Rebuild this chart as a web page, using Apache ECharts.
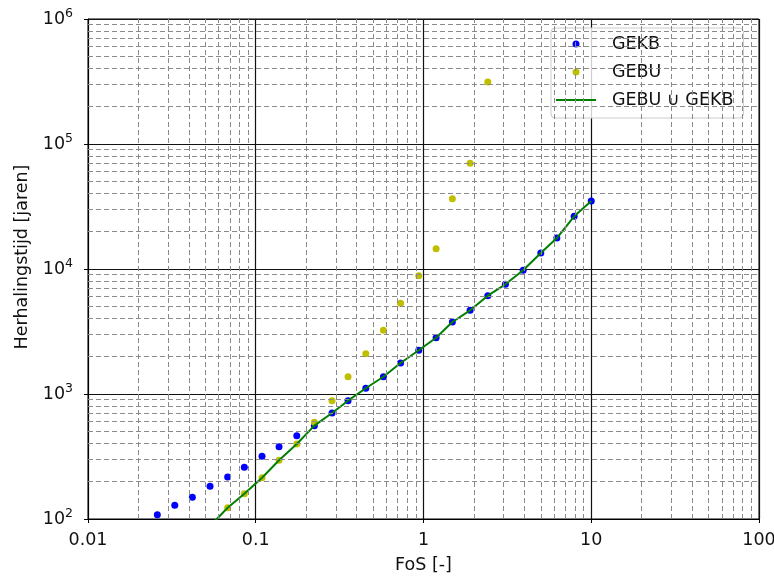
<!DOCTYPE html>
<html>
<head>
<meta charset="utf-8">
<script src="https://cdn.jsdelivr.net/npm/echarts@6/dist/echarts.min.js"></script>
<style>html,body{margin:0;padding:0;background:#fff;}#c{width:774px;height:579px;}</style>
</head>
<body>
<div id="c"></div>
<script>
// ---- data ----
const gekbX = [0.0259,0.0329,0.0419,0.0534,0.068,0.0855,0.109,0.1377,0.1756,0.2236,0.285,0.355,0.453,0.577,0.730,0.937,1.189,1.486,1.896,2.417,3.078,3.926,5.003,6.236,7.91,10.0];
const gekbY = [108,129,149,183,217,259,317,379,464,558,705,884,1111,1375,1770,2237,2821,3767,4673,6114,7545,9764,13430,17700,26400,35000];
const gebuX = [0.068,0.0855,0.109,0.1377,0.1756,0.2236,0.285,0.355,0.453,0.577,0.730,0.937,1.189,1.486,1.896,2.417];
const gebuY = [123,159,214,295,398,594,884,1375,2101,3233,5316,8840,14540,36500,70060,313000];
const unionX = [0.0534,0.068,0.0855,0.109,0.1377,0.1756,0.2236,0.285,0.355,0.453,0.577,0.730,0.937,1.189,1.486,1.896,2.417,3.078,3.926,5.003,6.236,7.91,10.0];
const unionY = [88,123,159,214,295,398,558,705,884,1111,1375,1770,2237,2821,3767,4673,6114,7545,9764,13430,17700,26400,35000];
const seriesNames = ['GEKB','GEBU','GEBU \u222A GEKB'];
const xTickLabels = ['0.01','0.1','1','10','100'];
const yTickExponents = ['2','3','4','5','6'];
const xDecades = [-2,-1,0,1];   // minor grid decades on x
const yDecades = [2,3,4,5];     // minor grid decades on y
const xAxisName = 'FoS [-]';
const yAxisName = 'Herhalingstijd [jaren]';

const FONT = 'DejaVu Sans';
const FS = 17.5;

function zip(xs, ys){ return xs.map((x,i)=>[x, ys[i]]); }
const minorX = [], minorY = [];
xDecades.forEach(d=>{ for(let m=2;m<=9;m++) minorX.push({xAxis: +(m*Math.pow(10,d)).toPrecision(3)}); });
yDecades.forEach(d=>{ for(let m=2;m<=9;m++) minorY.push({yAxis: +(m*Math.pow(10,d)).toPrecision(3)}); });

const chart = echarts.init(document.getElementById('c'), null, {renderer:'canvas'});
chart.setOption({
  animation: false,
  backgroundColor: '#fff',
  textStyle: {fontFamily: FONT},
  grid: {left: 88, right: 15, top: 19, bottom: 60, containLabel: false, outerBoundsMode: 'none',
         show: true, borderColor: '#000', borderWidth: 1, backgroundColor: 'transparent'},
  xAxis: {
    type: 'log', logBase: 10, min: 0.01, max: 100,
    name: xAxisName, nameLocation: 'middle', nameGap: 37,
    nameTextStyle: {fontFamily: FONT, fontSize: FS, color: '#111'},
    axisLine: {show: true, onZero: false, lineStyle: {color: '#000', width: 1}},
    axisTick: {show: true, length: 4, lineStyle: {color: '#000'}},
    axisLabel: {fontFamily: FONT, fontSize: FS, color: '#111', margin: 12,
      formatter: v => xTickLabels[Math.round(Math.log10(v)) + 2]},
    splitLine: {show: true, lineStyle: {color: '#111', width: 1.2}}
  },
  yAxis: {
    type: 'log', logBase: 10, min: 100, max: 1000000,
    axisLine: {show: true, onZero: false, lineStyle: {color: '#000', width: 1}},
    axisTick: {show: true, length: 4, lineStyle: {color: '#000'}},
    axisLabel: {margin: 15, color: '#111',
      formatter: v => '{b|10}{s|' + yTickExponents[Math.round(Math.log10(v)) - 2] + '}',
      rich: {
        b: {fontFamily: FONT, fontSize: FS, color: '#111'},
        s: {fontFamily: FONT, fontSize: 12.5, color: '#111', padding: [0,0,10,0]}
      }},
    splitLine: {show: true, lineStyle: {color: '#111', width: 1.2}}
  },
  graphic: [{
    type: 'text', x: 22, y: 257, rotation: Math.PI/2,
    style: {text: yAxisName, font: FS + 'px "' + FONT + '"', fill: '#111', align: 'center', verticalAlign: 'middle'}
  }],
  legend: {
    data: [
      {name: seriesNames[0], icon: 'circle'},
      {name: seriesNames[1], icon: 'circle'},
      {name: seriesNames[2], icon: 'path://M0,0L40,0L40,2L0,2Z'}
    ],
    orient: 'vertical', left: 551, top: 28,
    itemWidth: 40, itemHeight: 7, itemGap: 8,
    padding: [6, 10, 8, 5],
    backgroundColor: 'rgba(255,255,255,0.8)', borderColor: '#ccc', borderWidth: 1, borderRadius: 4,
    textStyle: {fontFamily: FONT, fontSize: FS, color: '#111', lineHeight: 20, padding: [0,0,0,11]}
  },
  series: [
    {
      name: 'minor-grid', type: 'line', data: [], silent: true, z: 1,
      markLine: {
        silent: true, symbol: ['none','none'], animation: false,
        label: {show: false},
        lineStyle: {color: '#8a8a8a', type: [5, 3], width: 1},
        emphasis: {disabled: true},
        data: minorX.concat(minorY)
      }
    },
    {
      name: seriesNames[0], type: 'scatter', data: zip(gekbX, gekbY),
      symbol: 'circle', symbolSize: 7, itemStyle: {color: '#0000ff', opacity: 1}, z: 3
    },
    {
      name: seriesNames[1], type: 'scatter', data: zip(gebuX, gebuY),
      symbol: 'circle', symbolSize: 7, itemStyle: {color: '#bfbf00', opacity: 1}, z: 3
    },
    {
      name: seriesNames[2], type: 'line', data: zip(unionX, unionY),
      symbol: 'none', showSymbol: false, clip: true,
      lineStyle: {color: '#008000', width: 2}, itemStyle: {color: '#008000'}, z: 4
    }
  ]
});
</script>
</body>
</html>
